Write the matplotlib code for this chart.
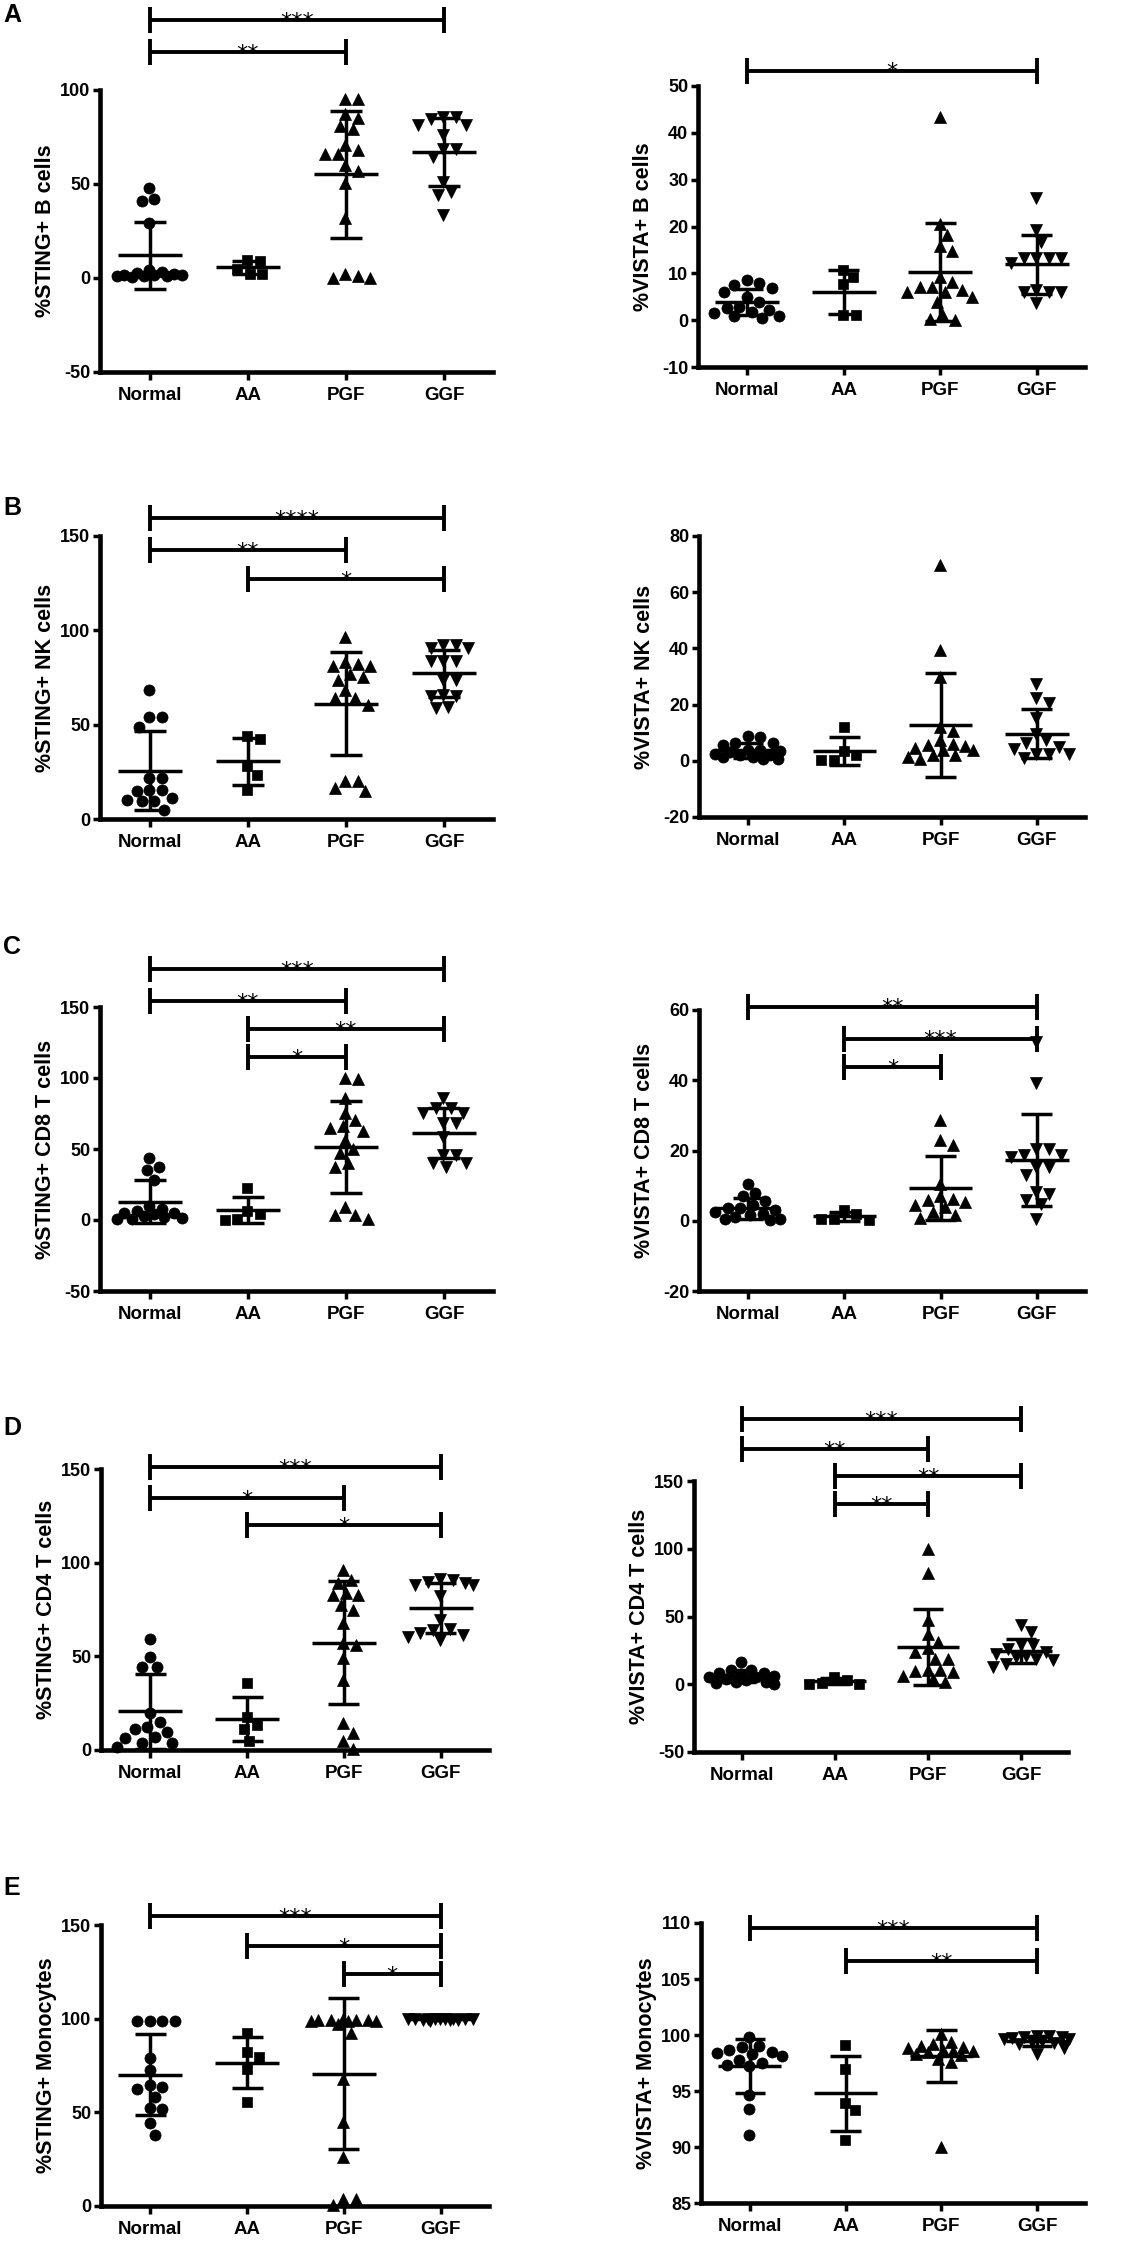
import numpy as np
import matplotlib
matplotlib.use('Agg')
import matplotlib.pyplot as plt

plt.rcParams['font.family'] = ['Liberation Sans', 'DejaVu Sans']
plt.rcParams['axes.unicode_minus'] = False

GROUPS = ['Normal', 'AA', 'PGF', 'GGF']

# ---------------- data ----------------
STING_B_NORMAL = [48, 41, 42, 29.5, 4.5, 3, 2, 1.5, 1, 1, 1.5, 0.5, 2.5, 1.5, 0.8]
STING_B_AA = [9.8, 8.9, 5.0, 2.3, 2.3]
STING_B_PGF = [95, 95, 87, 85, 81, 79, 71, 66, 66, 68, 60, 57, 50.7, 31.7, 0.9, 0, 0, 2.3]
STING_B_GGF = [85.6, 84.5, 85.6, 81.5, 81.5, 76, 68.7, 68.7, 64.6, 51, 46, 44, 33.5]

VISTA_B_NORMAL = [8.5, 8.0, 7.5, 6.8, 6.0, 5.0, 3.9, 2.8, 2.5, 2.1, 1.8, 0.9, 0.9, 0.4, 1.5]
VISTA_B_AA = [9.3, 10.8, 7.8, 1.1, 1.1]
VISTA_B_PGF = [43.4, 20.5, 18.2, 15.8, 14.8, 9.3, 8.2, 7.1, 7.1, 6.4, 6.0, 6.0, 5.0, 3.9, 1.4, 0.3, 0.1]
VISTA_B_GGF = [26, 19.2, 16.7, 13.2, 13.2, 13.2, 13.2, 12.1, 6.4, 6.0, 6.0, 6.0, 3.6]

STING_NK_NORMAL = [68.5, 53.8, 53.8, 49, 21.7, 21.7, 15.2, 15.2, 14.6, 11, 9.4, 9.4, 10, 4.9]
STING_NK_AA = [44, 42.4, 27.9, 23.5, 15.2]
STING_NK_PGF = [96.4, 81, 82, 83, 81, 77, 75.5, 73.8, 68.5, 64, 64, 60.5, 20, 14.6, 16.4, 20]
STING_NK_GGF = [92.3, 90.5, 90.5, 92.3, 84, 84, 84, 73.8, 73.8, 65.3, 65, 65.8, 59, 59.6]

VISTA_NK_NORMAL = [8.5, 8.8, 6.2, 6.5, 5.5, 4.0, 3.9, 3.5, 3.0, 2.5, 2.2, 1.5, 1.2, 0.8, 0.5, 2.0]
VISTA_NK_AA = [12.1, 3.4, 2.0, 0.2, 0.2]
VISTA_NK_PGF = [69.7, 39.4, 29.9, 12.1, 10.5, 7.3, 6.1, 5.2, 3.8, 3.8, 2.0, 2.0, 0.8, 4.5, 5.5, 1.5]
VISTA_NK_GGF = [27.5, 22.2, 20.4, 15.3, 9.7, 6.4, 7.3, 5.0, 4.3, 2.5, 2.3, 2.3, 1.0]

STING_CD8_NORMAL = [43.9, 35.2, 37.5, 28, 10, 8, 6, 5, 5, 4, 3, 2, 1.5, 1, 0.5]
STING_CD8_AA = [22.7, 6.5, 4.1, 0.2, 1.0]
STING_CD8_PGF = [99.9, 99.2, 85.8, 75.7, 70.5, 64.6, 63, 66.2, 56.4, 49.8, 47, 40.4, 37.5, 3.4, 0.5, 3.4, 9.3]
STING_CD8_GGF = [85.8, 78.8, 78.8, 75.7, 75.7, 68.1, 68.1, 58.7, 45.8, 45.8, 39.9, 39.9, 37.5]

VISTA_CD8_NORMAL = [10.6, 7.0, 7.9, 4.4, 3.5, 3.5, 3.0, 2.5, 2.0, 1.6, 1.2, 0.6, 0.6, 0.3, 5.5]
VISTA_CD8_AA = [3.2, 1.9, 0.5, 0.2, 0.6]
VISTA_CD8_PGF = [28.6, 23, 21.5, 10.6, 6.3, 6.0, 5.4, 3.9, 2.5, 0.8, 4.5, 7.0, 1.5]
VISTA_CD8_GGF = [51, 39.1, 20.5, 20.5, 18.7, 18.7, 18.2, 15.3, 15.3, 13, 7.7, 8.2, 6.0, 4.9, 0.5]

STING_CD4_NORMAL = [59.1, 49.9, 44.5, 44.2, 19.6, 15.1, 12.5, 11, 9.8, 7.1, 6.2, 3.6, 3.6, 1.8]
STING_CD4_AA = [35.6, 17.8, 13.4, 11, 5]
STING_CD4_PGF = [96.2, 89.4, 90.8, 83.7, 82.8, 82.8, 77.5, 74.8, 68, 56, 57, 49, 37.1, 14.3, 9.3, 5, 0.4]
STING_CD4_GGF = [91.2, 89, 88.2, 88.2, 90.5, 89.5, 82, 69.5, 64.7, 64.3, 62.4, 61.5, 58.8, 60.5]

VISTA_CD4_NORMAL = [16.4, 10.3, 10.5, 8, 7.8, 6, 5.5, 5, 4, 3, 2, 1.5, 1, 0.5, 8.5]
VISTA_CD4_AA = [5.3, 3.4, 0.5, 0.3, 0.8]
VISTA_CD4_PGF = [100, 82, 47.7, 36.9, 31.3, 26.4, 23.9, 19, 19, 9.3, 10.8, 10.8, 9.5, 4.1, 1.6, 6]
VISTA_CD4_GGF = [44, 38.6, 28.8, 28.8, 26, 24, 22, 21, 17.7, 18.9, 12.9, 15, 20]

STING_MONO_NORMAL = [98.9, 98.9, 98.9, 98.9, 79.2, 72.6, 64.6, 62.3, 63.7, 58.4, 52.1, 51.6, 44.1, 37.9]
STING_MONO_AA = [92.2, 82.4, 79.7, 73, 55.7]
STING_MONO_PGF = [99.5, 99.5, 99, 99.5, 99.8, 99.2, 97, 92.2, 67.6, 45, 26.3, 4, 0.3, 4, 98.5, 99]
STING_MONO_GGF = [99.8, 99.5, 99.9, 99.7, 99.6, 99.2, 99.8, 99.9, 99.5, 99.7, 99.6, 99.9, 98.8]

VISTA_MONO_NORMAL = [99.8, 98.9, 99.0, 98.7, 98.4, 98.1, 98.3, 97.8, 97.5, 97.3, 97.2, 94.6, 93.4, 91.1, 98.5]
VISTA_MONO_AA = [99.1, 97.0, 93.9, 93.3, 90.6]
VISTA_MONO_PGF = [100.1, 99.2, 99.4, 98.9, 98.6, 98.7, 98.5, 98.6, 97.9, 97.6, 98.3, 98.8, 99.0, 90.0, 98.2]
VISTA_MONO_GGF = [99.9, 99.8, 99.9, 99.7, 99.6, 99.5, 99.4, 99.3, 99.8, 99.6, 99.2, 98.3, 98.8]

# significance brackets: (group1, group2, height, label)
SIG_STING_B = [(0, 3, 137.2, '***'), (0, 2, 120.2, '**')]
SIG_VISTA_B = [(0, 3, 53.3, '*')]
SIG_STING_NK = [(0, 3, 159.5, '****'), (0, 2, 142.6, '**'), (1, 3, 127.2, '*')]
SIG_VISTA_NK = []
SIG_STING_CD8 = [(0, 3, 176.8, '***'), (0, 2, 154.0, '**'), (1, 3, 134.5, '**'), (1, 2, 114.8, '*')]
SIG_VISTA_CD8 = [(0, 3, 60.9, '**'), (1, 3, 51.8, '***'), (1, 2, 43.8, '*')]
SIG_STING_CD4 = [(0, 3, 151.0, '***'), (0, 2, 134.5, '*'), (1, 3, 120.0, '*')]
SIG_VISTA_CD4 = [(0, 3, 195.8, '***'), (0, 2, 173.6, '**'), (1, 3, 153.7, '**'), (1, 2, 133.0, '**')]
SIG_STING_MONO = [(0, 3, 154.8, '***'), (1, 3, 138.8, '*'), (2, 3, 123.8, '*')]
SIG_VISTA_MONO = [(0, 3, 109.55, '***'), (1, 3, 106.6, '**')]

# ---------------- layout ----------------
W, H = 1146, 2244
fig = plt.figure(figsize=(W / 100, H / 100), dpi=100)

MARKERS = ['o', 's', '^', 'v']
MSIZE = [8.0, 7.2, 8.6, 8.6]
XLIM = (-0.51, 3.5)


def add_axes(rect):
    L, T, R, B = rect
    return fig.add_axes([L / W, 1 - B / H, (R - L) / W, (B - T) / H])


def swarm(vals, ppu, ppc, d=12.0, step=2.5, maxw=33.0):
    vals = np.asarray(vals, float)
    order = np.argsort(-vals, kind='stable')
    cands = np.arange(-maxw, maxw + 0.01, step)
    cands = sorted(cands, key=lambda c: (abs(c), c))
    placed = []
    xs = np.zeros(len(vals))
    for i in order:
        y = vals[i] * ppu
        chosen = None
        best_c, best_md = 0.0, -1.0
        for c in cands:
            if placed:
                md = min(np.hypot(c - px, y - py) for px, py in placed)
            else:
                md = np.inf
            if md >= d:
                chosen = c
                break
            if md > best_md:
                best_md, best_c = md, c
        if chosen is None:
            chosen = best_c
        placed.append((chosen, y))
        xs[i] = chosen / ppc
    return xs


def draw_panel(rect, data, ylim, yticks, ylabel, sig):
    ax = add_axes(rect)
    L, T, R, B = rect
    ppu = (B - T) / (ylim[1] - ylim[0])
    ppc = (R - L) / (XLIM[1] - XLIM[0])
    lw = 2.5
    for i, vals in enumerate(data):
        vals = np.asarray(vals, float)
        xs = i + swarm(vals, ppu, ppc)
        ax.plot(xs, vals, linestyle='none', marker=MARKERS[i], ms=MSIZE[i],
                color='black', mec='black', mew=0.5, clip_on=False, zorder=3)
        m = vals.mean()
        s = vals.std(ddof=1)
        kw = dict(color='black', lw=lw, solid_capstyle='butt', clip_on=False, zorder=4)
        ax.plot([i - 0.33, i + 0.33], [m, m], **kw)
        ax.plot([i - 0.16, i + 0.16], [m + s, m + s], **kw)
        ax.plot([i - 0.16, i + 0.16], [m - s, m - s], **kw)
        ax.plot([i, i], [m - s, m + s], **kw)
    h = 13.0 / ppu
    for g1, g2, y, lab in sig:
        kw = dict(color='black', lw=2.8, solid_capstyle='butt', clip_on=False, zorder=4)
        ax.plot([g1, g2], [y, y], **kw)
        ax.plot([g1, g1], [y - h, y + h], **kw)
        ax.plot([g2, g2], [y - h, y + h], **kw)
        ax.annotate(lab, xy=((g1 + g2) / 2, y), xytext=(0, -5.5), textcoords='offset points',
                    ha='center', va='baseline', fontsize=16, family='DejaVu Sans',
                    annotation_clip=False, zorder=5)
    ax.set_xlim(*XLIM)
    ax.set_ylim(*ylim)
    ax.set_xticks(range(len(GROUPS)))
    ax.set_xticklabels(GROUPS, fontweight='bold')
    ax.set_yticks(yticks)
    ax.set_yticklabels([str(t) for t in yticks], fontweight='bold')
    for side in ['top', 'right']:
        ax.spines[side].set_visible(False)
    for side in ['left', 'bottom']:
        ax.spines[side].set_linewidth(3.3)
    ax.tick_params(axis='x', length=6, width=2.5, pad=5, labelsize=13.5)
    ax.tick_params(axis='y', length=5, width=2.5, pad=2, labelsize=13)
    ax.set_ylabel(ylabel, fontsize=15.5, fontweight='bold')
    ax.yaxis.set_label_coords(-44.0 / (R - L), 0.5)
    ax.patch.set_alpha(0)
    return ax


draw_panel((100, 90, 493, 372),
           [STING_B_NORMAL, STING_B_AA, STING_B_PGF, STING_B_GGF],
           (-50, 100), [-50, 0, 50, 100], '%STING+ B cells', SIG_STING_B)
draw_panel((698, 86, 1085, 367),
           [VISTA_B_NORMAL, VISTA_B_AA, VISTA_B_PGF, VISTA_B_GGF],
           (-10, 50), [-10, 0, 10, 20, 30, 40, 50], '%VISTA+ B cells', SIG_VISTA_B)
draw_panel((100, 536, 493, 819),
           [STING_NK_NORMAL, STING_NK_AA, STING_NK_PGF, STING_NK_GGF],
           (0, 150), [0, 50, 100, 150], '%STING+ NK cells', SIG_STING_NK)
draw_panel((699, 536, 1085, 817),
           [VISTA_NK_NORMAL, VISTA_NK_AA, VISTA_NK_PGF, VISTA_NK_GGF],
           (-20, 80), [-20, 0, 20, 40, 60, 80], '%VISTA+ NK cells', SIG_VISTA_NK)
draw_panel((100, 1007, 493, 1291),
           [STING_CD8_NORMAL, STING_CD8_AA, STING_CD8_PGF, STING_CD8_GGF],
           (-50, 150), [-50, 0, 50, 100, 150], '%STING+ CD8 T cells', SIG_STING_CD8)
draw_panel((699, 1010, 1085, 1291),
           [VISTA_CD8_NORMAL, VISTA_CD8_AA, VISTA_CD8_PGF, VISTA_CD8_GGF],
           (-20, 60), [-20, 0, 20, 40, 60], '%VISTA+ CD8 T cells', SIG_VISTA_CD8)
draw_panel((101, 1469, 489, 1750),
           [STING_CD4_NORMAL, STING_CD4_AA, STING_CD4_PGF, STING_CD4_GGF],
           (0, 150), [0, 50, 100, 150], '%STING+ CD4 T cells', SIG_STING_CD4)
draw_panel((694, 1481, 1068, 1752),
           [VISTA_CD4_NORMAL, VISTA_CD4_AA, VISTA_CD4_PGF, VISTA_CD4_GGF],
           (-50, 150), [-50, 0, 50, 100, 150], '%VISTA+ CD4 T cells', SIG_VISTA_CD4)
draw_panel((101, 1925, 489, 2206),
           [STING_MONO_NORMAL, STING_MONO_AA, STING_MONO_PGF, STING_MONO_GGF],
           (0, 150), [0, 50, 100, 150], '%STING+ Monocytes', SIG_STING_MONO)
draw_panel((701, 1923, 1085, 2203),
           [VISTA_MONO_NORMAL, VISTA_MONO_AA, VISTA_MONO_PGF, VISTA_MONO_GGF],
           (85, 110), [85, 90, 95, 100, 105, 110], '%VISTA+ Monocytes', SIG_VISTA_MONO)

for letter, ypx in [('A', 15), ('B', 508), ('C', 947), ('D', 1428), ('E', 1888)]:
    fig.text(3 / W, 1 - ypx / H, letter, fontsize=18, fontweight='bold', ha='left', va='center')

fig.savefig('out.png', dpi=100, facecolor='white')
